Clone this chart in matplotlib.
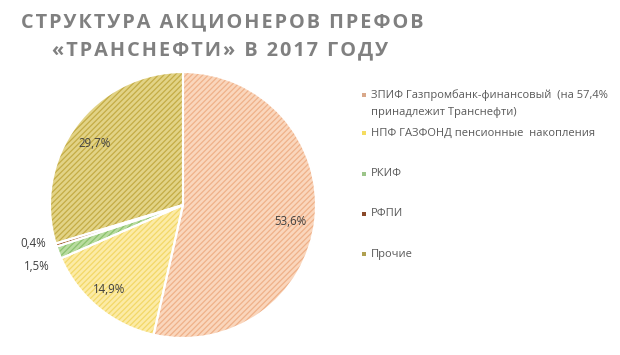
import matplotlib
matplotlib.use("Agg")
import matplotlib.pyplot as plt
import numpy as np

categories = ["ЗПИФ Газпромбанк-финансовый  (на 57,4%\nпринадлежит Транснефти)",
              "НПФ ГАЗФОНД пенсионные  накопления",
              "РКИФ",
              "РФПИ",
              "Прочие"]
values = [53.6, 14.9, 1.5, 0.4, 29.7]
title_lines = ["СТРУКТУРА АКЦИОНЕРОВ ПРЕФОВ", "«ТРАНСНЕФТИ» В 2017 ГОДУ"]

face_colors = ["#FAD6BC", "#FCEBA6", "#B9DCA0", "#B07040", "#E2D386"]
hatch_colors = ["#EFB189", "#F3D868", "#8CC26E", "#8A4A20", "#C4AC45"]
legend_colors = ["#D9A88A", "#F5DC60", "#9CC58A", "#8A4A2A", "#B0A050"]
label_r = [0.82, 0.84, 1.19, 1.16, 0.81]
label_da = [-2.5, -1.5, 2.0, -3.0, 1.7]

plt.rcParams['font.family'] = ['Open Sans', 'DejaVu Sans']
plt.rcParams['hatch.linewidth'] = 0.9

fig = plt.figure(figsize=(6.2, 3.55), dpi=100)
fig.patch.set_facecolor("white")

cx, cy, R = 183, 205, 133
ax = fig.add_axes([(cx - R) / 620, (355 - cy - R) / 355, 2 * R / 620, 2 * R / 355])
ax.axis("off")

wedges, _ = ax.pie(values, startangle=90, counterclock=False, colors=face_colors,
                   radius=1.0, wedgeprops=dict(linewidth=0), frame=False)
for w, hc in zip(wedges, hatch_colors):
    w.set_hatch("//////")
    w.set_edgecolor(hc)
    w.set_linewidth(0)
wedges2, _ = ax.pie(values, startangle=90, counterclock=False,
                    radius=1.0, wedgeprops=dict(linewidth=1.5, edgecolor="white", facecolor="none"))
ax.set_xlim(-1, 1)
ax.set_ylim(-1, 1)
ax.set_aspect("auto")
ax.axis("off")

for w, v, r, da in zip(wedges, values, label_r, label_da):
    mid = np.deg2rad((w.theta1 + w.theta2) / 2 + da)
    txt = f"{v:.1f}%".replace(".", ",")
    ax.text(r * np.cos(mid), r * np.sin(mid), txt, ha="center", va="center",
            fontsize=8.3, color="#404040")

# Title (letter-spaced)
sp = "\u200a"
for line, y, x in zip(title_lines, [0.937, 0.858], [0.359, 0.355]):
    fig.text(x, y, sp.join(line), ha="center", va="center", fontsize=14.3,
             fontweight="bold", color="#808080",
             fontfamily=['Open Sans', 'DejaVu Sans'])

# Legend
leg_y = [95, 133, 174, 214, 254]
for lab, col, y in zip(categories, legend_colors, leg_y):
    fig.patches.append(plt.Rectangle((362 / 620, (355 - y - 2) / 355), 4.5 / 620, 4.5 / 355,
                                     transform=fig.transFigure, facecolor=col, edgecolor="none"))
    for i, part in enumerate(lab.split("\n")):
        fig.text(371 / 620, (355 - y - 17 * i) / 355, part,
                 ha="left", va="center", fontsize=8, color="#595959")

fig.savefig("out.png", dpi=100, facecolor="white")
